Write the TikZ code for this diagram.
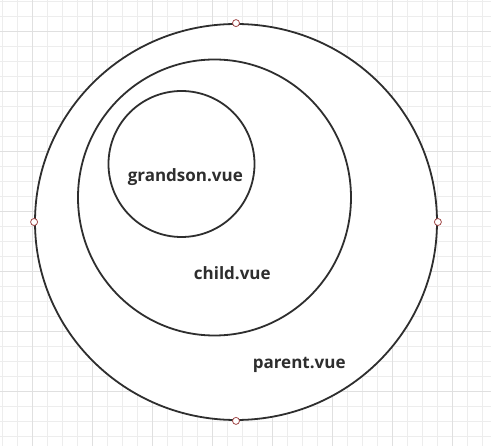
\documentclass[tikz,border=0pt]{standalone}
\usepackage{fontspec}
\setmainfont{Open Sans}
\usetikzlibrary{shapes.geometric}
\definecolor{gridminor}{HTML}{EDEDED}
\definecolor{gridmajor}{HTML}{E0E0E0}
\definecolor{ink}{HTML}{2E2E2E}
\definecolor{handle}{HTML}{A04848}
\tikzset{
  ring/.style={draw=ink, line width=1.8pt, ellipse, inner sep=0pt, fill=white},
  label/.style={text=ink, font=\bfseries\fontsize{17}{19}\selectfont, inner sep=0pt},
  handlept/.style={circle, draw=handle, fill=white, line width=0.8pt, minimum size=7pt, inner sep=0pt}
}
\begin{document}
\begin{tikzpicture}[x=1pt,y=-1pt]
\useasboundingbox (0,0) rectangle (491,446);
\fill[white] (0,0) rectangle (491,446);
% grid
\foreach \i in {0,...,32} {
  \draw[gridminor, line width=0.8pt] ({2.3+15*\i},0) -- ({2.3+15*\i},446);
}
\foreach \j in {0,...,29} {
  \draw[gridminor, line width=0.8pt] (0,{1+15*\j}) -- (491,{1+15*\j});
}
\foreach \i in {0,...,7} {
  \draw[gridmajor, line width=0.8pt] ({32.3+60*\i},0) -- ({32.3+60*\i},446);
}
\foreach \j in {0,...,7} {
  \draw[gridmajor, line width=0.8pt] (0,{31+60*\j}) -- (491,{31+60*\j});
}
% rings
\node[ring, minimum width=402pt, minimum height=396pt] (parent) at (236,222) {};
\node[ring, minimum width=273pt, minimum height=276pt] (child) at (214.5,197.5) {};
\node[ring, minimum width=146pt, minimum height=146pt] (grandson) at (181.5,164) {};
% handles
\node[handlept] (ht) at (parent.north) {};
\node[handlept] (hb) at (parent.south) {};
\node[handlept] (hl) at (parent.west) {};
\node[handlept] (hr) at (parent.east) {};
% labels
\node[label, anchor=base] (tg) at (185.3,181.7) {grandson.vue};
\node[label, anchor=base] (tc) at (232.3,279.3) {child.vue};
\node[label, anchor=base] (tp) at (299.2,368.3) {parent.vue};
\end{tikzpicture}
\end{document}
